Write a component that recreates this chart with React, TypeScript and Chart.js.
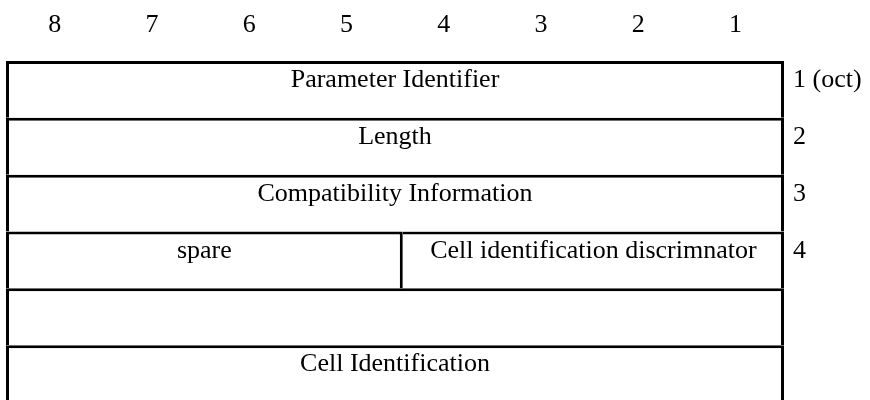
import React, { useEffect, useRef } from "react";
import { Chart, registerables } from "chart.js";

Chart.register(...registerables);

// Bit numbers shown above the table (left to right)
const bitLabels: string[] = ["8", "7", "6", "5", "4", "3", "2", "1"];
// Row keys (one per octet row)
const rowKeys: string[] = ["r1", "r2", "r3", "r4", "r5", "r6"];
// Octet numbers shown to the right of each row
const octetLabels: string[] = ["1 (oct)", "2", "3", "4", "", ""];
// Left (or full-width) cell of each row: text and span in bit units [start, end]
const leftCellText: string[] = [
  "Parameter Identifier",
  "Length",
  "Compatibility Information",
  "spare",
  "",
  "Cell Identification",
];
const leftCellSpan: [number, number][] = [
  [0, 8],
  [0, 8],
  [0, 8],
  [0, 4.08],
  [0, 8],
  [0, 8],
];
// Right cell (only row 4 is split)
const rightCellText: (string | null)[] = [null, null, null, "Cell identification discrimnator", null, null];
const rightCellSpan: ([number, number] | null)[] = [null, null, null, [4.08, 8], null, null];

const FONT = '26px "Liberation Serif", "Times New Roman", serif';

const textPlugin = {
  id: "tableText",
  afterDatasetsDraw(chart: any) {
    const { ctx, chartArea } = chart;
    const x = chart.scales.x;
    const y = chart.scales.y;
    const band = y.getPixelForValue(1) - y.getPixelForValue(0);
    ctx.save();
    ctx.font = FONT;
    ctx.fillStyle = "#000";
    ctx.textBaseline = "alphabetic";
    // bit numbers
    ctx.textAlign = "center";
    bitLabels.forEach((b, i) => {
      ctx.fillText(b, x.getPixelForValue(i + 0.5), chartArea.top - 29);
    });
    rowKeys.forEach((_, i) => {
      const top = y.getPixelForValue(i) - band / 2;
      const base = top + 26;
      ctx.textAlign = "center";
      const ls = leftCellSpan[i];
      if (leftCellText[i]) {
        ctx.fillText(leftCellText[i], (x.getPixelForValue(ls[0]) + x.getPixelForValue(ls[1])) / 2, base);
      }
      const rs = rightCellSpan[i];
      const rt = rightCellText[i];
      if (rs && rt) {
        ctx.fillText(rt, (x.getPixelForValue(rs[0]) + x.getPixelForValue(rs[1])) / 2, base);
      }
      if (octetLabels[i]) {
        ctx.textAlign = "left";
        ctx.fillText(octetLabels[i], chartArea.right + 9, base);
      }
    });
    ctx.restore();
  },
};

export default function App() {
  const ref = useRef<HTMLCanvasElement | null>(null);
  useEffect(() => {
    if (!ref.current) return;
    const chart = new Chart(ref.current, {
      type: "bar",
      data: {
        labels: rowKeys,
        datasets: [
          {
            data: leftCellSpan as any,
            backgroundColor: "#ffffff",
            borderColor: "#000000",
            borderWidth: { top: 3, left: 3, right: 3, bottom: 0 } as any,
            borderSkipped: false,
            inflateAmount: 0,
            grouped: false,
            barPercentage: 1,
            categoryPercentage: 1,
          },
          {
            data: rightCellSpan as any,
            backgroundColor: "#ffffff",
            borderColor: "#000000",
            borderWidth: { top: 3, left: 0, right: 3, bottom: 0 } as any,
            borderSkipped: false,
            inflateAmount: 0,
            grouped: false,
            barPercentage: 1,
            categoryPercentage: 1,
          },
        ],
      },
      options: {
        indexAxis: "y",
        animation: false,
        responsive: false,
        maintainAspectRatio: false,
        layout: { padding: { left: 6, right: 86, top: 61, bottom: 0 } },
        scales: {
          x: { type: "linear", min: 0, max: 8, display: false },
          y: { type: "category", display: false, offset: true },
        },
        plugins: {
          legend: { display: false },
          tooltip: { enabled: false },
          title: { display: false },
        },
        events: [],
      } as any,
      plugins: [textPlugin],
    });
    return () => chart.destroy();
  }, []);
  return (
    <div
      style={{
        position: "fixed",
        left: 0,
        top: 0,
        width: 870,
        height: 400,
        overflow: "hidden",
        background: "#fff",
      }}
    >
      <canvas ref={ref} width={870} height={402} style={{ display: "block" }} />
    </div>
  );
}
